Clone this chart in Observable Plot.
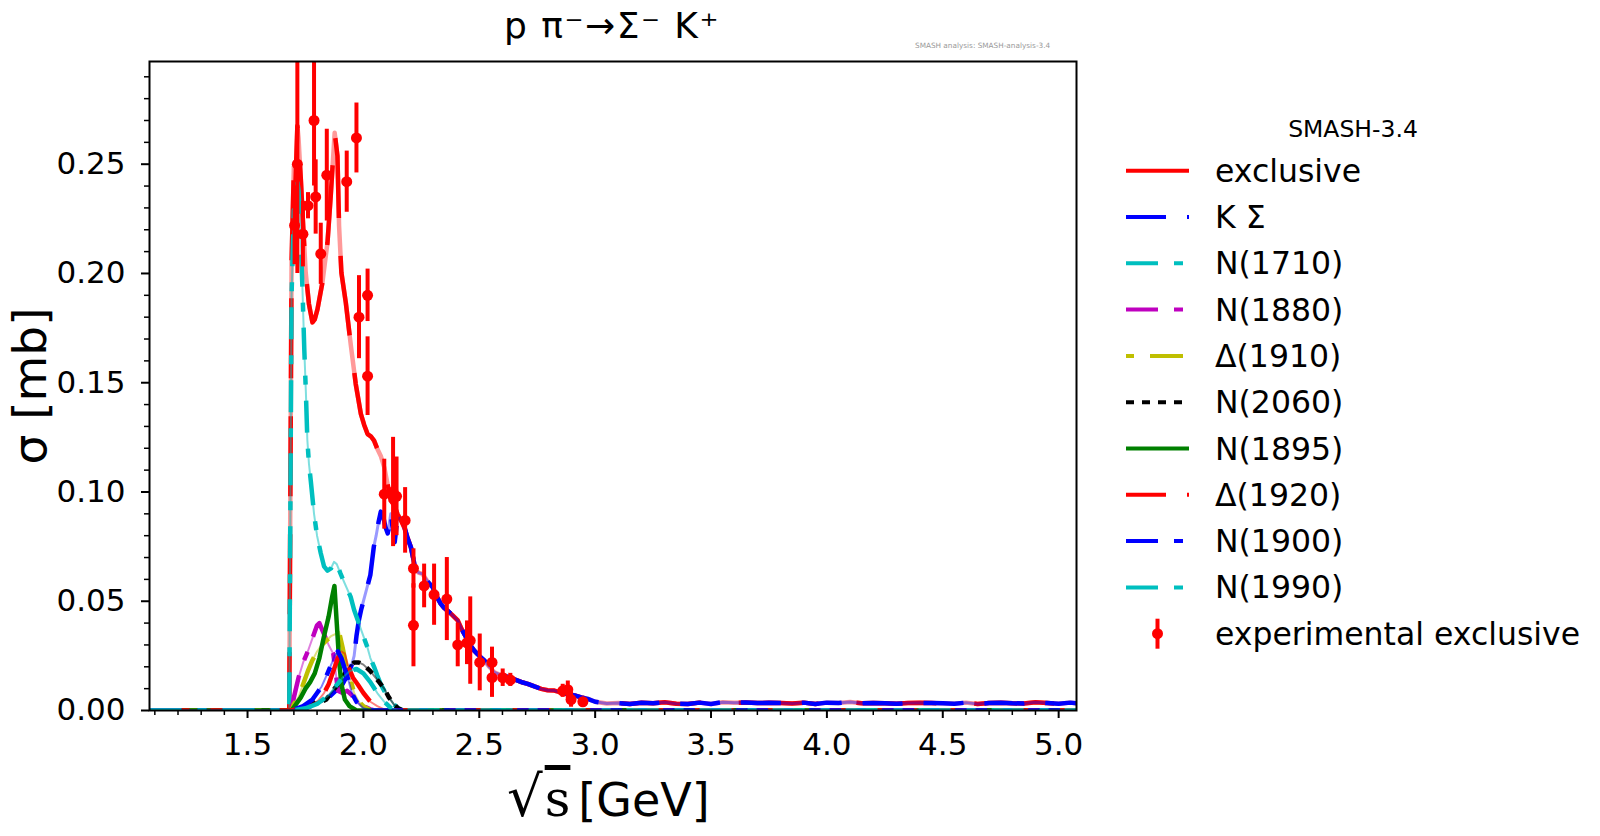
<!DOCTYPE html>
<html>
<head>
<meta charset="utf-8">
<script src="https://cdn.jsdelivr.net/npm/d3@7"></script>
<script src="https://cdn.jsdelivr.net/npm/@observablehq/plot@0.6"></script>
<style>
  html, body { margin: 0; padding: 0; background: white; }
  #wrap { position: relative; width: 1600px; height: 836px; overflow: hidden; }
  #overlay { position: absolute; left: 0; top: 0; pointer-events: none; }
</style>
</head>
<body>
<div id="wrap"></div>
<script>
// ---------- tick labels ----------
const xTicks = [1.5, 2.0, 2.5, 3.0, 3.5, 4.0, 4.5, 5.0];
const yTicks = [0.00, 0.05, 0.10, 0.15, 0.20, 0.25];

// ---------- shared part (x >= 2.205) for exclusive and K Sigma ----------
const midX = [2.205, 2.226, 2.24, 2.255, 2.277, 2.299, 2.317, 2.334, 2.348, 2.363, 2.385, 2.407, 2.425, 2.443, 2.46, 2.478, 2.5, 2.522, 2.543, 2.565, 2.587, 2.608, 2.637, 2.666, 2.688, 2.709, 2.738, 2.767, 2.795, 2.824, 2.867, 2.911, 2.94, 2.968];
const midY = [0.0747, 0.064, 0.063, 0.0625, 0.059, 0.0564, 0.052, 0.0488, 0.047, 0.0457, 0.0435, 0.0412, 0.037, 0.0335, 0.030, 0.0274, 0.025, 0.0229, 0.020, 0.0175, 0.0165, 0.016, 0.0148, 0.0137, 0.0128, 0.0122, 0.011, 0.0099, 0.0093, 0.0091, 0.0078, 0.0069, 0.006, 0.0053];
const tailX = [3.0, 3.05, 3.1, 3.15, 3.2, 3.25, 3.3, 3.35, 3.4, 3.45, 3.5, 3.55, 3.6, 3.65, 3.7, 3.75, 3.8, 3.85, 3.9, 3.95, 4.0, 4.05, 4.1, 4.15, 4.2, 4.25, 4.3, 4.35, 4.4, 4.45, 4.5, 4.55, 4.6, 4.65, 4.7, 4.75, 4.8, 4.85, 4.9, 4.95, 5.0, 5.05, 5.077];
const tailY = [0.0040, 0.0032, 0.0034, 0.0030, 0.0035, 0.0033, 0.0038, 0.0031, 0.0030, 0.0036, 0.0030, 0.0038, 0.0035, 0.0037, 0.0034, 0.0035, 0.0034, 0.0032, 0.0036, 0.0030, 0.0036, 0.0034, 0.0039, 0.0033, 0.0034, 0.0033, 0.0031, 0.0034, 0.0035, 0.0034, 0.0033, 0.0031, 0.0036, 0.0030, 0.0034, 0.0036, 0.0033, 0.0032, 0.0038, 0.0034, 0.0031, 0.0036, 0.0033];

// ---------- exclusive ----------
const exclHeadX = [1.077, 1.68, 1.69, 1.70, 1.705, 1.715, 1.72, 1.73, 1.74, 1.751, 1.765, 1.78, 1.79, 1.802, 1.823, 1.845, 1.859, 1.876, 1.888, 1.895, 1.905, 1.924, 1.946, 1.967, 1.989, 2.003, 2.018, 2.032, 2.046, 2.061, 2.075, 2.09, 2.104, 2.118, 2.133, 2.147, 2.162, 2.176, 2.19];
const exclHeadY = [0, 0, 0.205, 0.249, 0.235, 0.2675, 0.262, 0.243, 0.222, 0.2004, 0.186, 0.1776, 0.179, 0.1837, 0.1958, 0.2141, 0.2355, 0.2644, 0.2538, 0.2218, 0.2004, 0.1867, 0.1669, 0.1494, 0.1357, 0.1308, 0.1265, 0.1255, 0.1235, 0.1195, 0.1165, 0.1113, 0.1037, 0.096, 0.094, 0.0899, 0.087, 0.0838, 0.0792];

// ---------- K Sigma ----------
const kSigHeadX = [1.077, 1.69, 1.75, 1.80, 1.85, 1.88, 1.91, 1.93, 1.95, 1.96, 1.97, 1.98, 1.99, 2.0, 2.015, 2.03, 2.045, 2.055, 2.065, 2.075, 2.085, 2.095, 2.105, 2.118, 2.127, 2.135, 2.147, 2.16, 2.175, 2.19];
const kSigHeadY = [0, 0, 0.001, 0.003, 0.006, 0.009, 0.012, 0.016, 0.021, 0.025, 0.034, 0.041, 0.046, 0.050, 0.056, 0.062, 0.075, 0.080, 0.086, 0.091, 0.089, 0.084, 0.081, 0.090, 0.083, 0.077, 0.088, 0.088, 0.085, 0.079];

// ---------- resonances ----------
const n1710X = [1.077, 1.68, 1.69, 1.70, 1.705, 1.715, 1.72, 1.73, 1.737, 1.745, 1.752, 1.758, 1.765, 1.773, 1.787, 1.80, 1.816, 1.83, 1.845, 1.86, 1.873, 1.885, 1.90, 1.92, 1.945, 1.96, 1.98, 2.0, 2.017, 2.03, 2.046, 2.06, 2.075, 2.09, 2.11, 2.13, 2.15, 2.17, 5.077];
const n1710Y = [0, 0, 0.19, 0.229, 0.215, 0.242, 0.238, 0.215, 0.193, 0.165, 0.145, 0.124, 0.113, 0.105, 0.090, 0.080, 0.072, 0.066, 0.064, 0.065, 0.068, 0.067, 0.063, 0.058, 0.052, 0.046, 0.040, 0.034, 0.029, 0.024, 0.020, 0.016, 0.012, 0.009, 0.006, 0.003, 0.001, 0, 0];

const n1880X = [1.077, 1.69, 1.70, 1.72, 1.74, 1.76, 1.78, 1.80, 1.81, 1.83, 1.85, 1.87, 1.88, 1.89, 1.91, 1.93, 1.95, 1.97, 2.0, 2.03, 2.06, 5.077];
const n1880Y = [0, 0, 0.006, 0.015, 0.022, 0.027, 0.033, 0.039, 0.040, 0.035, 0.030, 0.026, 0.018, 0.009, 0.008, 0.009, 0.007, 0.004, 0.002, 0.0005, 0, 0];

const d1910X = [1.077, 1.69, 1.70, 1.72, 1.74, 1.76, 1.78, 1.80, 1.82, 1.84, 1.86, 1.88, 1.895, 1.91, 1.925, 1.945, 1.96, 1.98, 2.0, 2.03, 5.077];
const d1910Y = [0, 0, 0.003, 0.006, 0.012, 0.018, 0.023, 0.027, 0.030, 0.032, 0.034, 0.035, 0.036, 0.029, 0.021, 0.014, 0.008, 0.004, 0.002, 0, 0];

const n2060X = [1.077, 1.69, 1.75, 1.78, 1.80, 1.82, 1.84, 1.86, 1.89, 1.92, 1.94, 1.96, 1.98, 2.0, 2.03, 2.06, 2.09, 2.11, 2.13, 2.15, 2.17, 5.077];
const n2060Y = [0, 0, 0.001, 0.003, 0.004, 0.004, 0.005, 0.008, 0.012, 0.017, 0.020, 0.022, 0.022, 0.021, 0.018, 0.014, 0.010, 0.006, 0.003, 0.001, 0, 0];

const n1895X = [1.077, 1.69, 1.71, 1.73, 1.75, 1.77, 1.79, 1.81, 1.83, 1.85, 1.865, 1.875, 1.885, 1.895, 1.905, 1.92, 1.94, 1.97, 5.077];
const n1895Y = [0, 0, 0.003, 0.006, 0.010, 0.013, 0.017, 0.024, 0.034, 0.043, 0.052, 0.057, 0.040, 0.023, 0.012, 0.005, 0.002, 0, 0];

const d1920X = [1.077, 1.69, 1.76, 1.80, 1.83, 1.85, 1.87, 1.89, 1.905, 1.92, 1.935, 1.955, 1.975, 2.0, 2.03, 2.06, 2.1, 5.077];
const d1920Y = [0, 0, 0.002, 0.004, 0.008, 0.012, 0.018, 0.024, 0.027, 0.026, 0.020, 0.015, 0.012, 0.008, 0.004, 0.002, 0, 0];

const n1900X = [1.077, 1.69, 1.74, 1.78, 1.80, 1.82, 1.845, 1.865, 1.875, 1.89, 1.905, 1.92, 1.935, 1.95, 1.97, 2.0, 2.03, 5.077];
const n1900Y = [0, 0, 0.002, 0.005, 0.008, 0.011, 0.017, 0.022, 0.025, 0.027, 0.024, 0.019, 0.014, 0.008, 0.004, 0.001, 0, 0];

const n1990X = [1.077, 1.69, 1.75, 1.80, 1.85, 1.88, 1.91, 1.94, 1.97, 2.0, 2.03, 2.06, 2.09, 2.12, 2.15, 5.077];
const n1990Y = [0, 0, 0.001, 0.003, 0.007, 0.011, 0.015, 0.018, 0.019, 0.017, 0.013, 0.008, 0.004, 0.001, 0, 0];

// ---------- experimental exclusive ----------
const expX = [1.703, 1.715, 1.739, 1.761, 1.787, 1.794, 1.816, 1.842, 1.928, 1.970, 1.981, 2.018, 2.018, 2.090, 2.128, 2.143, 2.180, 2.216, 2.216, 2.262, 2.305, 2.360, 2.407, 2.447, 2.461, 2.502, 2.555, 2.555, 2.601, 2.634, 2.860, 2.882, 2.896, 2.947];
const expY = [0.222, 0.250, 0.218, 0.231, 0.270, 0.235, 0.209, 0.245, 0.242, 0.262, 0.180, 0.190, 0.153, 0.099, 0.100, 0.098, 0.087, 0.065, 0.039, 0.057, 0.053, 0.051, 0.030, 0.031, 0.032, 0.022, 0.022, 0.015, 0.015, 0.014, 0.009, 0.0095, 0.005, 0.004];
const expErr = [0.018, 0.050, 0.015, 0.006, 0.030, 0.017, 0.014, 0.021, 0.014, 0.016, 0.019, 0.012, 0.018, 0.016, 0.025, 0.018, 0.015, 0.009, 0.019, 0.010, 0.014, 0.019, 0.010, 0.010, 0.020, 0.013, 0.007, 0.009, 0.004, 0.003, 0.003, 0.004, 0.0035, 0.002];

// ---------- series definitions ----------
const rows = (xs, ys) => xs.map((x, i) => ({x, y: ys[i]}));
const series = [
  {name: "exclusive", color: "#ff0000", dash: "80,38", legendDash: null, data: rows([...exclHeadX, ...midX, ...tailX], [...exclHeadY, ...midY, ...tailY]), band: 4.5, bandOp: 0.4},
  {name: "K Σ", color: "#0000ff", dash: "40,21", legendDash: "40,21", data: rows([...kSigHeadX, ...midX, ...tailX], [...kSigHeadY, ...midY, ...tailY]), band: 3, bandOp: 0.4},
  {name: "N(1710)", color: "#00bfbf", dash: "32,16,9,16", legendDash: "32,16,9,16", data: rows(n1710X, n1710Y), band: 2, bandOp: 0.5},
  {name: "N(1880)", color: "#bf00bf", dash: "32,16,9,16", legendDash: "32,16,9,16", data: rows(n1880X, n1880Y), band: 2, bandOp: 0.5},
  {name: "Δ(1910)", color: "#bfbf00", dash: "8,16,32,16", legendDash: "8,16,33,16", data: rows(d1910X, d1910Y), band: 2, bandOp: 0.5},
  {name: "N(2060)", color: "#000000", dash: "8,8", legendDash: "8,8", data: rows(n2060X, n2060Y), band: 2, bandOp: 0.5},
  {name: "N(1895)", color: "#008000", dash: null, legendDash: null, data: rows(n1895X, n1895Y), band: 2, bandOp: 0.5},
  {name: "Δ(1920)", color: "#ff0000", dash: "40,21", legendDash: "40,21", data: rows(d1920X, d1920Y), band: 2, bandOp: 0.5},
  {name: "N(1900)", color: "#0000ff", dash: "32,16,9,16", legendDash: "32,16,9,16", data: rows(n1900X, n1900Y), band: 2, bandOp: 0.5},
  {name: "N(1990)", color: "#00bfbf", dash: "32,16,9,16", legendDash: "32,16,9,16", data: rows(n1990X, n1990Y), band: 2, bandOp: 0.5}
];
const expData = expX.map((x, i) => ({x, y: expY[i], lo: expY[i] - expErr[i], hi: expY[i] + expErr[i]}));

const xMinor = d3.range(11, 51).map(d => d / 10).filter(d => !xTicks.some(t => Math.abs(t - d) < 1e-9));
const yMinor = d3.range(1, 30).map(d => d / 100).filter(d => !yTicks.some(t => Math.abs(t - d) < 1e-9));

const marks = [];
for (const s of series) {
  marks.push(Plot.line(s.data, {x: "x", y: "y", stroke: s.color, strokeWidth: s.band, strokeOpacity: s.bandOp, clip: true}));
  const opt = {x: "x", y: "y", stroke: s.color, strokeWidth: 4.5, clip: true, strokeLinecap: "butt"};
  if (s.dash) opt.strokeDasharray = s.dash;
  marks.push(Plot.line(s.data, opt));
}
marks.push(Plot.ruleX(expData, {x: "x", y1: "lo", y2: "hi", stroke: "#ff0000", strokeWidth: 4, clip: true}));
marks.push(Plot.dot(expData, {x: "x", y: "y", r: 5.5, fill: "#ff0000", stroke: "none"}));
marks.push(Plot.axisX(xMinor, {tickSize: 5, tickFormat: () => "", strokeWidth: 1.5, label: null}));
marks.push(Plot.axisY(yMinor, {tickSize: 5, tickFormat: () => "", strokeWidth: 1.5, label: null}));
marks.push(Plot.axisX(xTicks, {tickSize: 8, tickPadding: 14, tickFormat: d3.format(".1f"), strokeWidth: 2, fontSize: 31, label: null}));
marks.push(Plot.axisY(yTicks, {tickSize: 8, tickPadding: 16, tickFormat: d3.format(".2f"), strokeWidth: 2, fontSize: 31, label: null}));
marks.push(Plot.frame({stroke: "black", strokeWidth: 2}));

const chart = Plot.plot({
  width: 1600,
  height: 836,
  marginLeft: 149,
  marginRight: 524,
  marginTop: 61,
  marginBottom: 126,
  x: {domain: [1.077, 5.077], label: null},
  y: {domain: [0, 0.297], label: null},
  style: {fontFamily: "DejaVu Sans", fontSize: "31px", background: "white", color: "black"},
  marks
});
const wrap = document.getElementById("wrap");
wrap.appendChild(chart);

// ---------- overlay texts and legend ----------
const ov = d3.select(wrap).append("svg")
  .attr("id", "overlay")
  .attr("width", 1600).attr("height", 836)
  .style("font-family", "DejaVu Sans");

ov.append("text").attr("x", 612).attr("y", 38).attr("text-anchor", "middle")
  .attr("font-size", 36).attr("letter-spacing", 1.5).attr("fill", "black").text("p π⁻→Σ⁻ K⁺");
ov.append("text").attr("x", 915).attr("y", 48)
  .attr("font-size", 7.3).attr("fill", "#999").text("SMASH analysis: SMASH-analysis-3.4");

// y label
ov.append("text").attr("transform", "translate(46,386) rotate(-90)")
  .attr("text-anchor", "middle").attr("font-size", 47).attr("fill", "black").text("σ [mb]");

// x label
const xl = ov.append("text").attr("x", 507).attr("y", 816).attr("font-size", 46).attr("fill", "black");
xl.append("tspan").attr("font-size", 56).text("√");
xl.append("tspan").attr("dx", 2).attr("font-family", "DejaVu Serif").attr("font-size", 50).style("text-decoration", "overline").text("s");
xl.append("tspan").attr("dx", 8).text("[GeV]");

// legend
ov.append("text").attr("x", 1353).attr("y", 137).attr("text-anchor", "middle")
  .attr("font-size", 23.5).attr("fill", "black").text("SMASH-3.4");
const rowY = i => 170.7 + 46.3 * i;
series.forEach((s, i) => {
  const y = rowY(i);
  const ln = ov.append("line").attr("x1", 1126).attr("x2", 1189).attr("y1", y).attr("y2", y)
    .attr("stroke", s.color).attr("stroke-width", 4);
  if (s.legendDash) ln.attr("stroke-dasharray", s.legendDash);
  ov.append("text").attr("x", 1215).attr("y", y + 11).attr("font-size", 31.5).attr("fill", "black").text(s.name);
});
{
  const y = rowY(10);
  ov.append("line").attr("x1", 1157.5).attr("x2", 1157.5).attr("y1", y - 15).attr("y2", y + 15)
    .attr("stroke", "#ff0000").attr("stroke-width", 4);
  ov.append("circle").attr("cx", 1157.5).attr("cy", y).attr("r", 5.5).attr("fill", "#ff0000");
  ov.append("text").attr("x", 1215).attr("y", y + 11).attr("font-size", 31.5).attr("fill", "black").text("experimental exclusive");
}
</script>
</body>
</html>
